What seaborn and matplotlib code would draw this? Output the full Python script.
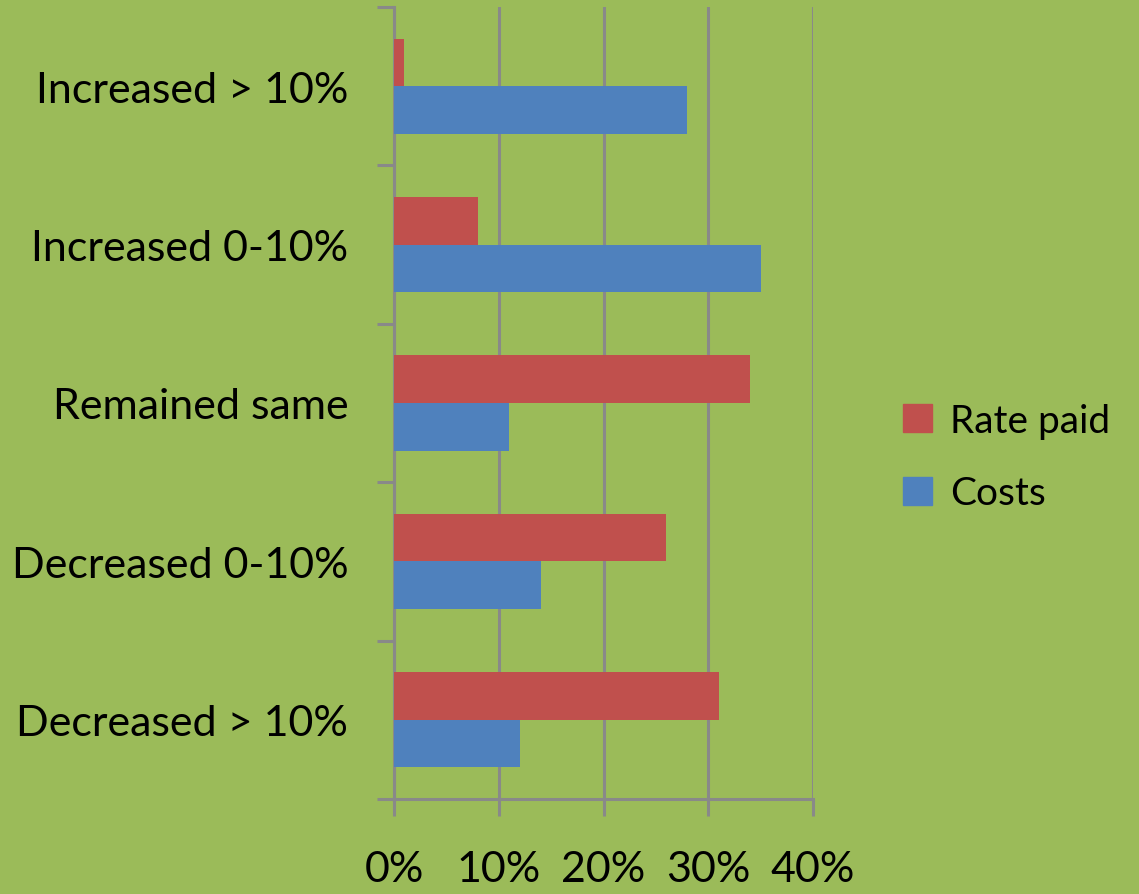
import pandas as pd
import seaborn as sns
import matplotlib.pyplot as plt
from matplotlib.ticker import FixedLocator, PercentFormatter

# survey answers
categories = ['Increased > 10%', 'Increased 0-10%', 'Remained same', 'Decreased 0-10%', 'Decreased > 10%']
rate_paid = [1, 8, 34, 26, 31]
costs = [28, 35, 11, 14, 12]
series = ['Rate paid', 'Costs']
x_ticks = [0, 10, 20, 30, 40]

df = pd.DataFrame({'Category': categories, 'Rate paid': rate_paid, 'Costs': costs})
df_melt = pd.melt(df, id_vars=['Category'], value_vars=series)

bg = '#9bbb59'
grey = '#898989'
colors = ['#c0504d', '#4f81bd']
sns.set_theme(style='white', rc={'figure.figsize': (11.39, 8.95), 'figure.dpi': 100,
                                 'axes.facecolor': bg, 'figure.facecolor': bg,
                                 'text.color': 'black'})
plt.rcParams['font.family'] = ['Lato', 'DejaVu Sans']

fig = plt.figure()
ax = fig.add_axes([394 / 1139, 1 - 800 / 895, (813 - 394) / 1139, (800 - 8) / 895])
sns.barplot(data=df_melt, y='Category', x='value', hue='variable', hue_order=series,
            order=categories, orient='h', width=0.6, palette=colors,
            saturation=1, ax=ax, legend=False, zorder=3, linewidth=0)

ax.set_xlim(0, 40)
ax.set_ylim(4.5, -0.5)
ax.xaxis.set_major_locator(FixedLocator(x_ticks))
ax.xaxis.set_major_formatter(PercentFormatter(decimals=0))
ax.grid(axis='x', color=grey, linewidth=2.2, zorder=0)
ax.set_axisbelow(True)
ax.set(xlabel='', ylabel='')

for s in ['top', 'right']:
    ax.spines[s].set_visible(False)
for s in ['left', 'bottom']:
    ax.spines[s].set_color(grey)
    ax.spines[s].set_linewidth(2.2)

ax.tick_params(axis='x', direction='out', length=12, width=2.2, color=grey, pad=25,
               labelsize=31, labelcolor='black', bottom=True)
ax.tick_params(axis='y', which='major', length=0, pad=33, labelsize=31, labelcolor='black')
ax.yaxis.set_minor_locator(FixedLocator([-0.5, 0.5, 1.5, 2.5, 3.5, 4.5]))
ax.tick_params(axis='y', which='minor', direction='out', length=12, width=2.2, color=grey, left=True)

handles = [plt.Rectangle((0, 0), 1, 1, color=c) for c in colors]
leg = fig.legend(handles, series, loc='center left', bbox_to_anchor=(868 / 1139, 1 - 458 / 895),
                 frameon=False, fontsize=28, handlelength=0.75, handleheight=0.75,
                 handletextpad=0.45, labelspacing=0.95)
for t in leg.get_texts():
    t.set_color('black')

plt.savefig('out.png', dpi=100)
